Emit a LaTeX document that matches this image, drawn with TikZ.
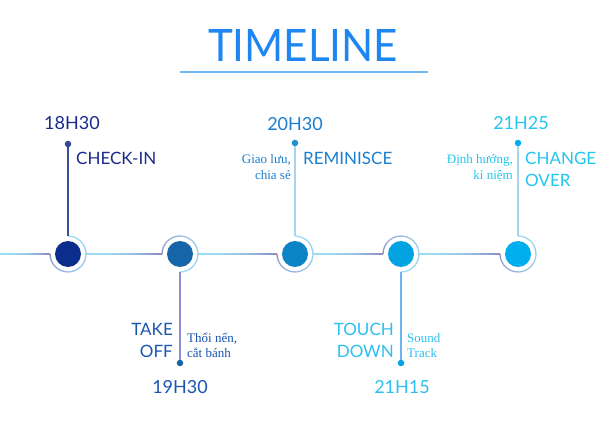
\documentclass[tikz,border=0pt]{standalone}
\usepackage{fontspec}
\setmainfont{Lato}
\newfontfamily\smallfont{Liberation Serif}
\definecolor{cyanL}{HTML}{9ADCF6}
\definecolor{purpG}{HTML}{8E8EC0}
\definecolor{titleC}{HTML}{1E86F0}
\definecolor{ruleC}{HTML}{6AB8FA}
\definecolor{tA}{HTML}{1B2A8C}
\definecolor{tB}{HTML}{1A55B0}
\definecolor{tC}{HTML}{1A7FD0}
\definecolor{tD}{HTML}{2CC0EE}
\definecolor{tE}{HTML}{22C6F0}
\definecolor{dA}{HTML}{0B2D8C}
\definecolor{dB}{HTML}{1565A8}
\definecolor{dC}{HTML}{0B84C6}
\definecolor{dD}{HTML}{03A3E2}
\definecolor{dE}{HTML}{00AEEF}
\definecolor{sA}{HTML}{3C4C96}
\definecolor{sB}{HTML}{8C8CD8}
\definecolor{sC}{HTML}{A8D4F4}
\definecolor{sD}{HTML}{6EB4F4}
\definecolor{sE}{HTML}{A8D4F4}
\tikzset{
  big/.style={font=\fontsize{17}{17}\selectfont, inner sep=0pt},
  num/.style={font=\fontsize{18}{18}\selectfont, inner sep=0pt, anchor=base},
  small/.style={font=\smallfont\fontsize{13}{13}\selectfont, inner sep=0pt},
  dotc/.style={circle, inner sep=0pt, minimum size=26pt},
  pin/.style={circle, inner sep=0pt, minimum size=6.5pt},
  stem/.style={line width=1.1pt},
}
% gradient horizontal segment: #1 start x, #2 end x
\newcommand{\gseg}[2]{%
  \foreach \k in {0,...,19}{%
    \pgfmathsetmacro\xa{#1+(#2-#1)*\k/20}%
    \pgfmathsetmacro\xb{#1+(#2-#1)*(\k+1)/20+0.3}%
    \pgfmathsetmacro\pc{100-100*(\k/19)^2}%
    \draw[line width=1.3pt, color=cyanL!\pc!purpG] (\xa,254) -- (\xb,254);
  }}
% gradient ring arc: #1 center x, #2 start angle, #3 end angle
\newcommand{\garc}[3]{%
  \foreach \k in {0,...,19}{%
    \pgfmathsetmacro\aa{#2+(#3-#2)*\k/20}%
    \pgfmathsetmacro\ab{#2+(#3-#2)*(\k+1)/20}%
    \pgfmathsetmacro\pc{100*sqrt(\k/19)}%
    \draw[line width=1.3pt, color=cyanL!\pc!purpG] (#1,254) ++(\aa:18) arc[start angle=\aa, end angle=\ab, radius=18];
  }}
\begin{document}
\begin{tikzpicture}[x=1pt,y=-1pt]
\useasboundingbox (0,0) rectangle (608,430);
\fill[white] (0,0) rectangle (608,430);
% title
\node[inner sep=0pt, text=titleC] (title) at (303,46) {\resizebox{190pt}{32pt}{\fontsize{40}{40}\selectfont TIMELINE}};
\coordinate (ruleL) at (180,72);
\coordinate (ruleR) at (428,72);
\draw[ruleC, line width=1.2pt] (ruleL) -- (ruleR);
% horizontal line segments
\gseg{0}{50}
\gseg{86}{162}
\gseg{198}{277}
\gseg{313}{383}
\gseg{419}{500}
% rings
\garc{68}{180}{-90}
\garc{180}{180}{450}
\garc{295}{180}{-90}
\garc{401}{180}{450}
\garc{518}{180}{-90}
% main dots
\node[dotc, fill=dA] (c1) at (68,254) {};
\node[dotc, fill=dB] (c2) at (180,254) {};
\node[dotc, fill=dC] (c3) at (295,254) {};
\node[dotc, fill=dD] (c4) at (401,254) {};
\node[dotc, fill=dE] (c5) at (518,254) {};
% ring ends for stems
\coordinate (r1) at (68,236);
\coordinate (r2) at (180,272);
\coordinate (r3) at (295,236);
\coordinate (r4) at (401,272);
\coordinate (r5) at (518,236);
% pins
\node[pin, fill=sA!80!dA] (p1) at (68,144) {};
\node[pin, fill=dB] (p2) at (180,363) {};
\node[pin, fill=dC!90!white] (p3) at (295,143) {};
\node[pin, fill=dD] (p4) at (401,363) {};
\node[pin, fill=dE] (p5) at (518,143) {};
\draw[stem, sA] (r1) -- (p1);
\draw[stem, sB] (r2) -- (p2);
\draw[stem, sC] (r3) -- (p3);
\draw[stem, sD] (r4) -- (p4);
\draw[stem, sE] (r5) -- (p5);
% texts 1
\node[num, text=tA] (n1) at (72,130) {18H30};
\node[big, anchor=base west, text=tA] (l1) at (76,165) {CHECK-IN};
% texts 2
\node[big, anchor=base east, text=tB] (l2a) at (173,336) {TAKE};
\node[big, anchor=base east, text=tB] (l2b) at (173,358) {OFF};
\node[small, anchor=base west, text=tB] (s2a) at (187,343) {Thổi nến,};
\node[small, anchor=base west, text=tB] (s2b) at (187,358) {cắt bánh};
\node[num, text=tB] (n2) at (180,393) {19H30};
% texts 3
\node[num, text=tC] (n3) at (295,131) {20H30};
\node[big, anchor=base west, text=tC] (l3) at (303,165) {REMINISCE};
\node[small, anchor=base east, text=tC] (s3a) at (291,164) {Giao lưu,};
\node[small, anchor=base east, text=tC] (s3b) at (291,180) {chia sẻ};
% texts 4
\node[big, anchor=base east, text=tD] (l4a) at (394,336) {TOUCH};
\node[big, anchor=base east, text=tD] (l4b) at (394,358) {DOWN};
\node[small, anchor=base west, text=tD] (s4a) at (407,343) {Sound};
\node[small, anchor=base west, text=tD] (s4b) at (407,358) {Track};
\node[num, text=tD] (n4) at (402,393) {21H15};
% texts 5
\node[num, text=tE] (n5) at (521,130) {21H25};
\node[big, anchor=base west, text=tE] (l5a) at (525,165) {CHANGE};
\node[big, anchor=base west, text=tE] (l5b) at (525,187) {OVER};
\node[small, anchor=base east, text=tE] (s5a) at (513,164) {Định hướng,};
\node[small, anchor=base east, text=tE] (s5b) at (513,180) {kỉ niệm};
\end{tikzpicture}
\end{document}
